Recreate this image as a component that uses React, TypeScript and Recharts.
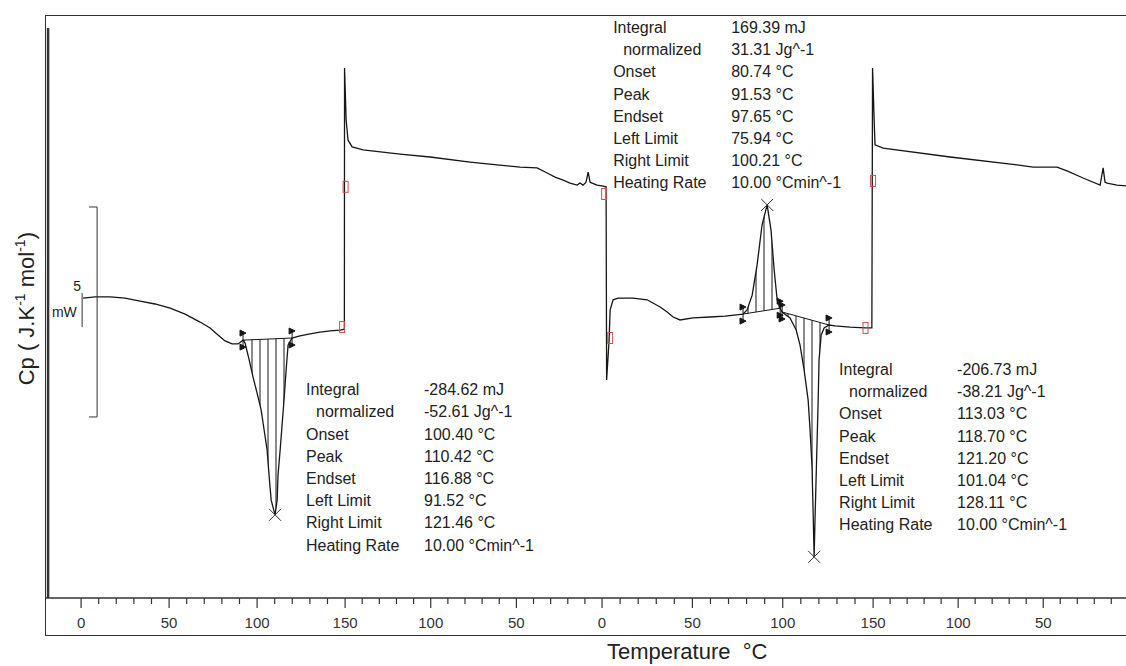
import React from "react";
import {
  Area,
  ComposedChart,
  Line,
  ReferenceDot,
  ReferenceLine,
  XAxis,
  YAxis,
} from "recharts";

const FONT = '"Liberation Sans", Arial, sans-serif';
const INK = "#161616";

// heat flow trace: [time (min), heat flow (mW, arbitrary zero)]
const HEAT_1 = [
  [0.11, 7.14], [0.8, 7.17], [1.65, 7.17], [2.5, 7.14], [3.35, 7.07], [4.2, 7.0],
  [5.06, 6.9], [5.91, 6.76], [6.76, 6.57], [7.33, 6.43], [7.78, 6.26], [8.18, 6.12],
  [8.58, 6.05], [8.92, 6.05], [9.2, 6.14], [9.32, 6.07], [9.55, 5.67], [9.77, 5.26],
  [10.0, 4.88], [10.23, 4.48], [10.4, 4.0], [10.57, 3.52], [10.68, 2.93], [10.8, 2.33],
  [11.02, 1.98], [11.14, 2.33], [11.19, 2.93], [11.31, 3.52], [11.42, 4.12], [11.53, 4.71],
  [11.65, 5.43], [11.76, 6.02], [11.99, 6.19], [12.44, 6.24], [13.01, 6.29], [13.58, 6.33],
  [14.15, 6.36], [14.72, 6.38], [14.96, 6.4],
];
const COOL_1 = [
  [14.97, 12.62], [15.06, 11.38], [15.17, 10.9], [15.4, 10.74], [16.02, 10.67], [18.13, 10.57],
  [19.83, 10.5], [22.1, 10.38], [23.64, 10.31], [24.94, 10.26], [25.91, 10.24], [26.48, 10.12],
  [26.93, 10.02], [27.39, 9.95], [27.78, 9.88], [28.18, 9.83], [28.35, 9.88], [28.52, 9.83],
  [28.69, 9.9], [28.81, 10.14], [28.92, 9.9], [29.03, 9.88], [29.32, 9.83], [29.6, 9.81],
  [29.83, 9.79],
];
const HEAT_2 = [
  [29.86, 5.19], [30.0, 6.14], [30.06, 6.86], [30.23, 7.1], [30.51, 7.14], [31.36, 7.14],
  [32.16, 7.1], [32.9, 6.93], [33.3, 6.81], [33.64, 6.69], [34.03, 6.62], [34.77, 6.67],
  [35.74, 6.69], [36.59, 6.71], [37.61, 6.76], [37.84, 6.86], [38.13, 7.21], [38.41, 7.93],
  [38.69, 8.88], [38.98, 9.36], [39.2, 8.76], [39.38, 7.81], [39.55, 7.1], [39.72, 6.9],
  [39.83, 6.81], [40.28, 6.67], [40.63, 6.38], [40.85, 6.02], [41.08, 5.43], [41.31, 4.71],
  [41.42, 4.0], [41.53, 3.12], [41.59, 2.1], [41.65, 0.98], [41.7, 1.86], [41.76, 2.81],
  [41.82, 3.76], [41.88, 4.71], [41.93, 5.67], [42.05, 6.26], [42.22, 6.43], [42.5, 6.5],
  [42.84, 6.48], [43.69, 6.45], [44.55, 6.43], [44.93, 6.43],
];
const COOL_2 = [
  [44.97, 12.62], [45.06, 11.38], [45.11, 10.79], [45.57, 10.71], [49.38, 10.5], [53.18, 10.31],
  [54.09, 10.26], [55.45, 10.26], [56.02, 10.17], [56.93, 10.0], [57.9, 9.83], [58.07, 10.24],
  [58.18, 9.9], [58.3, 9.88], [58.86, 9.83], [59.38, 9.81],
];
const START = [[-1.875, 13.57], [-1.875, 0]];

// temperature program: each segment's start/end temperature and time
const SEGMENTS = [
  { from: 0, to: 150, t0: 0, t1: 15 },
  { from: 150, to: 0, t0: 15, t1: 29.6 },
  { from: 0, to: 150, t0: 29.6, t1: 45 },
  { from: 150, to: 0, t0: 45, t1: 59.5 },
];

// integration limits (min) of the three evaluated peaks
const PEAKS = [
  { lo: 9.2, hi: 11.99 },
  { lo: 37.61, hi: 39.72 },
  { lo: 39.83, hi: 42.5 },
];

// segment-end markers
const MARKS = [
  [14.83, 6.45], [15.03, 9.79], [29.72, 9.62], [30.06, 6.19], [44.57, 6.43], [45.0, 9.93],
];

const BLOCK_LEFT = [
  ["Integral", "-284.62 mJ"],
  [" normalized", "-52.61 Jg^-1"],
  ["Onset", "100.40 °C"],
  ["Peak", "110.42 °C"],
  ["Endset", "116.88 °C"],
  ["Left Limit", "91.52 °C"],
  ["Right Limit", "121.46 °C"],
  ["Heating Rate", "10.00 °Cmin^-1"],
];
const BLOCK_MID = [
  ["Integral", "169.39 mJ"],
  [" normalized", "31.31 Jg^-1"],
  ["Onset", "80.74 °C"],
  ["Peak", "91.53 °C"],
  ["Endset", "97.65 °C"],
  ["Left Limit", "75.94 °C"],
  ["Right Limit", "100.21 °C"],
  ["Heating Rate", "10.00 °Cmin^-1"],
];
const BLOCK_RIGHT = [
  ["Integral", "-206.73 mJ"],
  [" normalized", "-38.21 Jg^-1"],
  ["Onset", "113.03 °C"],
  ["Peak", "118.70 °C"],
  ["Endset", "121.20 °C"],
  ["Left Limit", "101.04 °C"],
  ["Right Limit", "128.11 °C"],
  ["Heating Rate", "10.00 °Cmin^-1"],
];
// where each result table sits (time, heat flow of first text line)
const BLOCK_POS = [
  [12.78, 4.83],
  [30.23, 13.45],
  [43.07, 5.31],
];

const X_DOMAIN = [-2.05, 59.37];
const Y_DOMAIN = [0, 13.857];

const toPts = (arr: number[][]) => arr.map(([t, v]) => ({ t, v }));
const TRACE = toPts([...HEAT_1, ...COOL_1, ...HEAT_2, ...COOL_2]);

const TICKS: { t: number; temp: number }[] = [];
SEGMENTS.forEach((s, i) => {
  const step = s.to > s.from ? 10 : -10;
  for (let T = s.from + (i === 0 ? 0 : step); step > 0 ? T <= s.to : T >= s.to; T += step) {
    const t = s.t0 + ((T - s.from) / (s.to - s.from)) * (s.t1 - s.t0);
    if (t >= X_DOMAIN[0] && t <= X_DOMAIN[1]) TICKS.push({ t: +t.toFixed(4), temp: T });
  }
});

const peakData = PEAKS.map(({ lo, hi }) => {
  const pts = TRACE.filter((p) => p.t >= lo && p.t <= hi);
  const a = pts[0];
  const b = pts[pts.length - 1];
  const base = (t: number) => a.v + ((t - a.t) / (b.t - a.t)) * (b.v - a.v);
  const band = pts.map((p) => ({ t: p.t, band: [base(p.t), p.v] }));
  const tip = pts.reduce((m, p) => (Math.abs(p.v - base(p.t)) > Math.abs(m.v - base(m.t)) ? p : m));
  return { band, baseline: [a, b], tip };
});

const TempTick = ({ x, y, payload }: any) => {
  const tick = TICKS.find((k) => Math.abs(k.t - payload.value) < 1e-3);
  if (!tick) return null;
  const major = tick.temp % 50 === 0;
  return (
    <g>
      <line x1={x} x2={x} y1={y} y2={y + (major ? 10 : 6)} stroke="#333" strokeWidth={1.2} />
      {major && (
        <text x={x} y={y + 30} textAnchor="middle" fontSize={15} fontFamily={FONT} fill="#333">
          {tick.temp}
        </text>
      )}
    </g>
  );
};

const InfoBlock = ({ cx, cy, rows }: any) => (
  <g fontFamily={FONT} fontSize={16} fill="#222">
    {rows.map(([k, val]: string[], i: number) => (
      <g key={i}>
        <text x={cx + (k.startsWith(" ") ? 10 : 0)} y={cy + i * 22.2}>
          {k.trim()}
        </text>
        <text x={cx + 118} y={cy + i * 22.2}>
          {val}
        </text>
      </g>
    ))}
  </g>
);

const Cross = ({ cx, cy }: any) => (
  <g stroke="#333" strokeWidth={1}>
    <line x1={cx - 6} y1={cy - 6} x2={cx + 6} y2={cy + 6} />
    <line x1={cx - 6} y1={cy + 6} x2={cx + 6} y2={cy - 6} />
  </g>
);

const LimitMark = ({ cx, cy }: any) => (
  <g fill={INK} stroke={INK} strokeWidth={1}>
    <line x1={cx} y1={cy - 9} x2={cx} y2={cy + 9} />
    <path d={`M${cx - 3},${cy - 10} L${cx + 3},${cy - 7} L${cx - 3},${cy - 4} Z`} />
    <path d={`M${cx - 3},${cy + 4} L${cx + 3},${cy + 7} L${cx - 3},${cy + 10} Z`} />
  </g>
);

const RedMark = ({ cx, cy }: any) => (
  <rect x={cx - 2.5} y={cy - 5.5} width={5} height={11} fill="none" stroke="#c8504f" strokeWidth={1} />
);

const Label = ({ cx, cy, text, size }: any) => (
  <text x={cx} y={cy} textAnchor="middle" fontSize={size} fontFamily={FONT} fill="#222">
    {text}
  </text>
);

export default function App() {
  return (
    <div style={{ position: "absolute", left: 0, top: 0, width: 1126, height: 666, background: "#fff" }}>
      <ComposedChart width={1126} height={666} margin={{ top: 16, right: 0, left: 45, bottom: 38 }}>
        <defs>
          <pattern id="hatch" width="8" height="8" patternUnits="userSpaceOnUse">
            <line x1="4" y1="0" x2="4" y2="8" stroke={INK} strokeWidth="1" />
          </pattern>
        </defs>
        <XAxis
          dataKey="t"
          type="number"
          domain={X_DOMAIN}
          allowDataOverflow
          ticks={TICKS.map((k) => k.t)}
          interval={0}
          tick={<TempTick />}
          tickLine={false}
          tickSize={0}
          tickMargin={0}
          height={30}
          axisLine={{ stroke: "#333", strokeWidth: 1.5 }}
        />
        <YAxis hide type="number" domain={Y_DOMAIN} allowDataOverflow />

        {peakData.map((p, i) => (
          <Area
            key={`band${i}`}
            data={p.band}
            dataKey="band"
            type="linear"
            stroke="none"
            fill="url(#hatch)"
            fillOpacity={1}
            isAnimationActive={false}
          />
        ))}
        {peakData.map((p, i) => (
          <Line
            key={`base${i}`}
            data={p.baseline}
            dataKey="v"
            type="linear"
            stroke={INK}
            strokeWidth={1}
            dot={false}
            isAnimationActive={false}
          />
        ))}
        <Line data={toPts(START)} dataKey="v" stroke="#333" strokeWidth={2.5} dot={false} isAnimationActive={false} />
        <Line data={TRACE} dataKey="v" type="linear" stroke={INK} strokeWidth={1.3} dot={false} isAnimationActive={false} />

        {/* 5 mW scale bar */}
        <ReferenceLine segment={[{ x: 0.91, y: 9.31 }, { x: 0.91, y: 4.31 }]} stroke="#333" ifOverflow="visible" />
        <ReferenceLine segment={[{ x: 0.45, y: 9.31 }, { x: 0.91, y: 9.31 }]} stroke="#333" ifOverflow="visible" />
        <ReferenceLine segment={[{ x: 0.45, y: 4.31 }, { x: 0.91, y: 4.31 }]} stroke="#333" ifOverflow="visible" />
        <ReferenceLine segment={[{ x: 0.06, y: 7.26 }, { x: 0.06, y: 6.45 }]} stroke="#333" ifOverflow="visible" />
        <ReferenceDot x={-0.23} y={7.3} r={1} ifOverflow="visible" shape={(p: any) => <Label {...p} text="5" size={14} />} />
        <ReferenceDot x={-0.95} y={6.68} r={1} ifOverflow="visible" shape={(p: any) => <Label {...p} text="mW" size={14} />} />

        {MARKS.map(([t, v], i) => (
          <ReferenceDot key={`m${i}`} x={t} y={v} r={1} ifOverflow="visible" shape={(p: any) => <RedMark {...p} />} />
        ))}
        {peakData.map((p, i) => (
          <ReferenceDot key={`x${i}`} x={p.tip.t} y={p.tip.v} r={1} ifOverflow="visible" shape={(q: any) => <Cross {...q} />} />
        ))}
        {peakData.flatMap((p, i) =>
          p.baseline.map((b, j) => (
            <ReferenceDot key={`l${i}${j}`} x={b.t} y={b.v} r={1} ifOverflow="visible" shape={(q: any) => <LimitMark {...q} />} />
          ))
        )}
        {[BLOCK_LEFT, BLOCK_MID, BLOCK_RIGHT].map((rows, i) => (
          <ReferenceDot
            key={`b${i}`}
            x={BLOCK_POS[i][0]}
            y={BLOCK_POS[i][1]}
            r={1}
            ifOverflow="visible"
            shape={(p: any) => <InfoBlock {...p} rows={rows} />}
          />
        ))}
      </ComposedChart>

      {/* frame */}
      <div
        style={{
          position: "absolute",
          left: 45,
          top: 15,
          width: 1081,
          height: 621,
          boxSizing: "border-box",
          borderTop: "1.5px solid #333",
          borderLeft: "1.5px solid #333",
          borderBottom: "1.5px solid #333",
          pointerEvents: "none",
        }}
      />
      <div
        style={{
          position: "absolute",
          left: 607,
          top: 639,
          fontFamily: FONT,
          fontSize: 22,
          color: "#222",
          whiteSpace: "pre",
        }}
      >
        {"Temperature  °C"}
      </div>
      <div
        style={{
          position: "absolute",
          left: 26 - 120,
          top: 310 - 15,
          width: 240,
          textAlign: "center",
          fontFamily: FONT,
          fontSize: 22,
          color: "#222",
          transform: "rotate(-90deg)",
          whiteSpace: "pre",
        }}
      >
        Cp ( J.K<sup style={{ fontSize: 14 }}>-1</sup> mol<sup style={{ fontSize: 14 }}>-1</sup>)
      </div>
    </div>
  );
}
